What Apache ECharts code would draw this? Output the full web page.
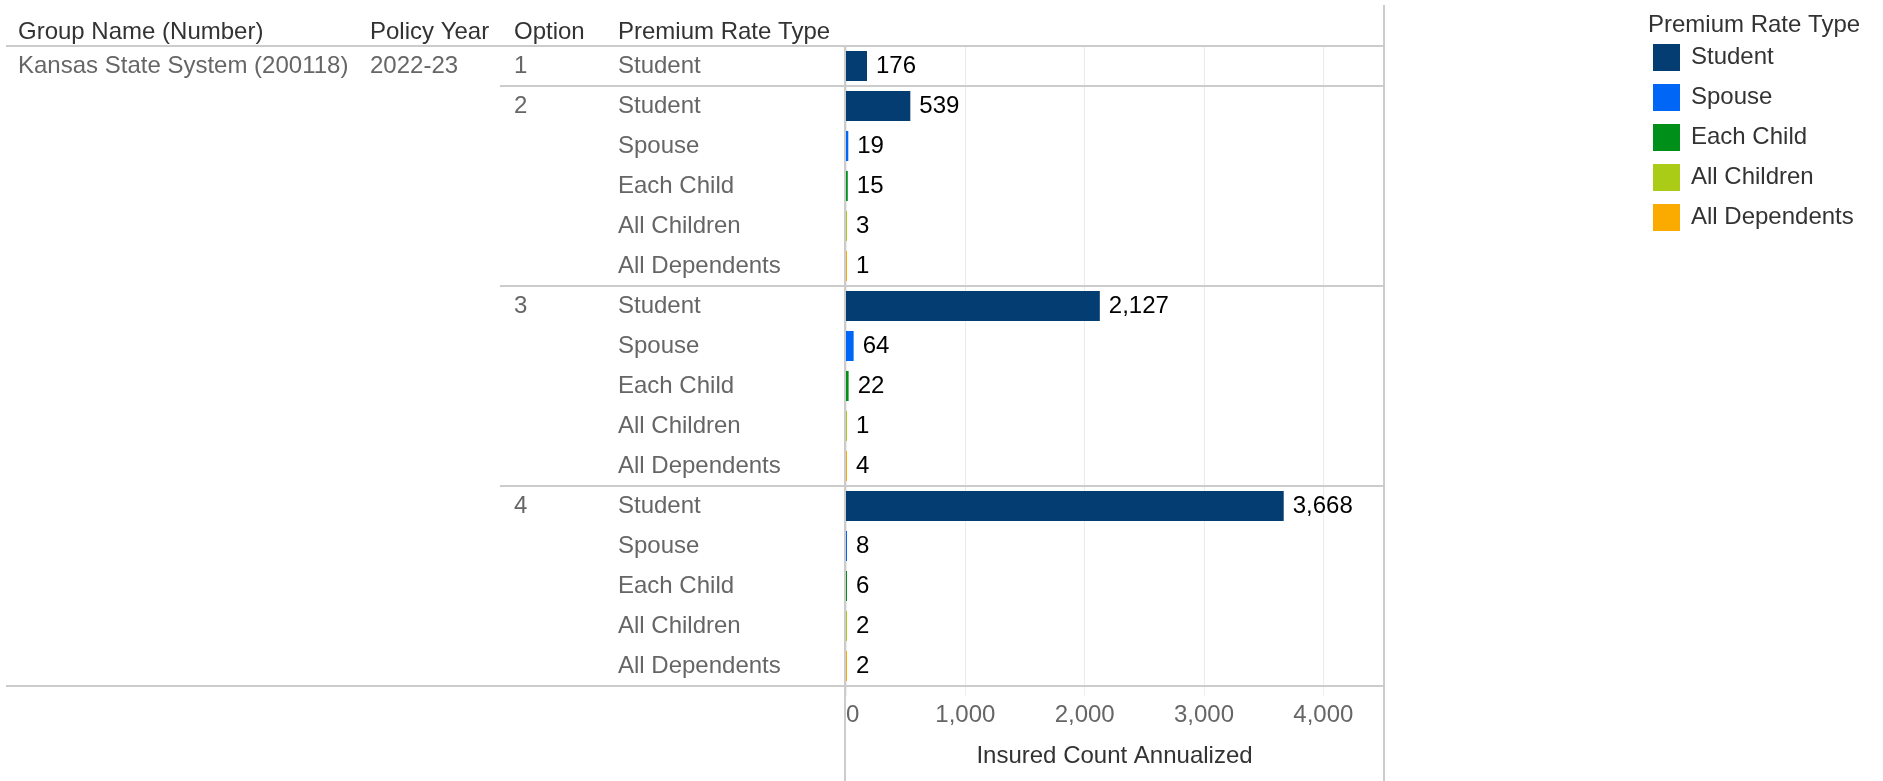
<!DOCTYPE html>
<html>
<head>
<meta charset="utf-8">
<script src="https://cdn.jsdelivr.net/npm/echarts@6/dist/echarts.min.js"></script>
<style>
html,body{margin:0;padding:0;background:#fff;}
#chart{width:1883px;height:781px;}
</style>
</head>
<body>
<div id="chart"></div>
<script>
// ---- data ----
const groupName = 'Kansas State System (200118)';
const policyYear = '2022-23';
const optionLabels = ['1', '2', '3', '4'];
const rateTypes = ['Student', 'Spouse', 'Each Child', 'All Children', 'All Dependents'];
const option1Types = ['Student'];
const option2Types = ['Student', 'Spouse', 'Each Child', 'All Children', 'All Dependents'];
const option3Types = ['Student', 'Spouse', 'Each Child', 'All Children', 'All Dependents'];
const option4Types = ['Student', 'Spouse', 'Each Child', 'All Children', 'All Dependents'];
const option1Values = [176];
const option2Values = [539, 19, 15, 3, 1];
const option3Values = [2127, 64, 22, 1, 4];
const option4Values = [3668, 8, 6, 2, 2];
const xTicks = [0, 1000, 2000, 3000, 4000];
const headers = ['Group Name (Number)', 'Policy Year', 'Option', 'Premium Rate Type'];
const legendTitle = 'Premium Rate Type';
const axisTitle = 'Insured Count Annualized';

// ---- styles ----
const typeColors = ['#033d71', '#0066f5', '#00901a', '#abcc17', '#fbab00'];
const FONT = 'Liberation Sans, Arial, sans-serif';
const FS = 24;
const LINE = '#cccccc';

// ---- build rows ----
const typesByOption = [option1Types, option2Types, option3Types, option4Types];
const valuesByOption = [option1Values, option2Values, option3Values, option4Values];
const rows = [];
const groupStarts = [];
typesByOption.forEach((types, o) => {
  groupStarts.push(rows.length);
  types.forEach((t, j) => {
    rows.push({
      key: optionLabels[o] + '|' + t,
      option: j === 0 ? optionLabels[o] : '',
      type: t,
      value: valuesByOption[o][j]
    });
  });
});
const keys = rows.map(r => r.key);
const byKey = {};
rows.forEach((r, i) => { byKey[r.key] = Object.assign({ idx: i }, r); });

const fmt = v => Number(v).toLocaleString('en-US');

const chart = echarts.init(document.getElementById('chart'), null, { renderer: 'canvas' });

function labelAxis(formatter, margin) {
  return {
    type: 'category', data: keys, inverse: true, gridIndex: 0, position: 'left', offset: 0,
    axisLine: { show: false }, axisTick: { show: false }, splitLine: { show: false },
    axisLabel: {
      interval: 0, align: 'left', margin: margin, formatter: formatter,
      color: '#666666', fontSize: FS, fontFamily: FONT
    }
  };
}

const series = rateTypes.map((t, k) => ({
  name: t,
  type: 'bar',
  stack: 'all',
  yAxisIndex: 0,
  barWidth: 30,
  barMinHeight: 1,
  z: 5,
  itemStyle: { color: typeColors[k] },
  label: {
    show: true, position: 'right', distance: 9,
    color: '#000', fontSize: FS, fontFamily: FONT,
    formatter: p => fmt(p.value)
  },
  data: rows.map(r => r.type === t ? r.value : '-')
}));

const option = {
  animation: false,
  textStyle: { fontFamily: FONT },
  grid: { left: 846, right: 500, top: 46, height: 640, containLabel: false, outerBoundsMode: 'none' },
  legend: {
    orient: 'vertical', left: 1648, top: 39,
    itemWidth: 27, itemHeight: 27, itemGap: 13, icon: 'rect',
    textStyle: { color: '#333', fontSize: FS, fontFamily: FONT, padding: [0, 0, 0, 6] },
    data: rateTypes
  },
  xAxis: {
    type: 'value', min: 0, max: 4500, interval: 1000,
    axisLine: { show: false },
    axisTick: { show: true, length: 10, lineStyle: { color: '#eeeeee' } },
    splitLine: { show: true, lineStyle: { color: '#ebebeb', width: 1 } },
    axisLabel: {
      color: '#666', fontSize: FS, fontFamily: FONT, margin: 17,
      showMaxLabel: false, alignMinLabel: 'left',
      formatter: v => xTicks.indexOf(v) >= 0 ? fmt(v) : ''
    },
    name: axisTitle, nameLocation: 'middle', nameGap: 58,
    nameTextStyle: { color: '#333', fontSize: FS, fontFamily: FONT }
  },
  yAxis: [
    labelAxis(v => byKey[v].type, 846 - 618),
    labelAxis(v => byKey[v].option, 846 - 514),
    labelAxis(v => byKey[v].idx === 0 ? policyYear : '', 846 - 370),
    labelAxis(v => byKey[v].idx === 0 ? groupName : '', 846 - 18)
  ],
  series: series
};
chart.setOption(option);

// ---- table lines & headers, positioned from the axes ----
const yc = i => chart.convertToPixel({ yAxisIndex: 0 }, keys[i]);
const band = yc(1) - yc(0);
const topY = yc(0) - band / 2;
const botY = yc(keys.length - 1) + band / 2;
const x0 = chart.convertToPixel({ xAxisIndex: 0 }, 0);
const xR = chart.convertToPixel({ xAxisIndex: 0 }, 4500);
const g = [];
function hline(x1, x2, y) {
  g.push({ type: 'line', silent: true, z: 50, shape: { x1: x1, y1: y, x2: x2, y2: y },
    style: { stroke: LINE, lineWidth: 2 } });
}
function vline(x, y1, y2, z) {
  g.push({ type: 'line', silent: true, z: z, shape: { x1: x, y1: y1, x2: x, y2: y2 },
    style: { stroke: LINE, lineWidth: 2 } });
}
hline(6, xR, topY);
hline(6, xR, botY);
groupStarts.slice(1).forEach(s => hline(500, xR, yc(s) - band / 2));
vline(x0 - 1, topY, 781, 0);
vline(xR + 1, 5, 781, 50);
const headerX = [18, 370, 514, 618];
headers.forEach((h, i) => {
  g.push({ type: 'text', silent: true, x: headerX[i], y: topY - 14,
    style: { text: h, fill: '#333', font: FS + 'px ' + FONT, textVerticalAlign: 'middle', textAlign: 'left' } });
});
g.push({ type: 'text', silent: true, x: 1648, y: 25,
  style: { text: legendTitle, fill: '#333', font: FS + 'px ' + FONT, textVerticalAlign: 'middle', textAlign: 'left' } });
chart.setOption({ graphic: g });
</script>
</body>
</html>
